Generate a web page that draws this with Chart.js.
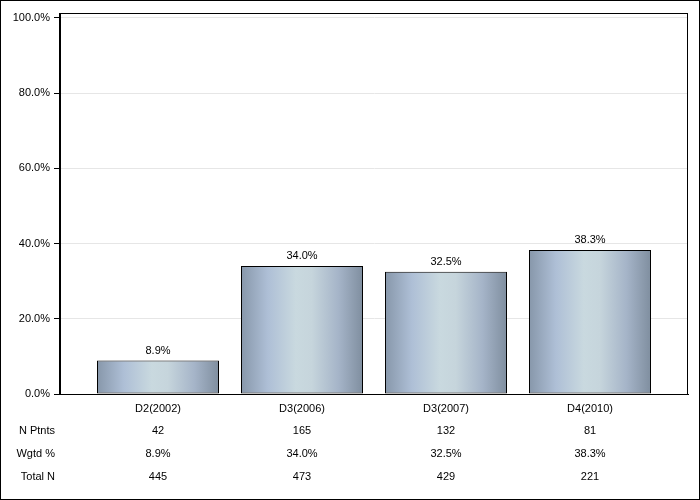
<!DOCTYPE html>
<html>
<head>
<meta charset="utf-8">
<script src="https://cdn.jsdelivr.net/npm/chart.js@4/dist/chart.umd.min.js"></script>
<style>
  html, body { margin: 0; padding: 0; background: #fff; }
  #wrap { width: 700px; height: 500px; }
</style>
</head>
<body>
<div id="wrap"><canvas id="myChart" width="700" height="500"></canvas></div>
<script>
var categories = ["D2(2002)", "D3(2006)", "D3(2007)", "D4(2010)"]
var values = [8.9, 34.0, 32.5, 38.3]
var nPtnts = ["42", "165", "132", "81"]
var wgtd = ["8.9%", "34.0%", "32.5%", "38.3%"]
var totalN = ["445", "473", "429", "221"]
var rowLabels = ["N Ptnts", "Wgtd %", "Total N"]
var yTicks = [0, 20, 40, 60, 80, 100]

var FONT = "Arial, 'Liberation Sans', sans-serif"
var BAR_PCT = 122 / 144
var X_PAD = 0.68056

function barGradient(c) {
    var chart = c.chart
    var x = chart.scales.x
    if (!x || !chart.chartArea) return '#b0c0d0'
    var center = x.getPixelForValue(c.dataIndex)
    var half = (x.getPixelForValue(1) - x.getPixelForValue(0)) * BAR_PCT / 2
    var g = chart.ctx.createLinearGradient(center - half, 0, center + half, 0)
    g.addColorStop(0, '#8797aa')
    g.addColorStop(0.22, '#aebfd6')
    g.addColorStop(0.45, '#c9d9df')
    g.addColorStop(0.58, '#c6d5dc')
    g.addColorStop(0.8, '#a5b4c8')
    g.addColorStop(1, '#7f8e9f')
    return g
}

// frame, bar labels and the table under the axis
var extras = {
    id: 'extras',
    afterDraw: function (chart) {
        var ctx = chart.ctx
        var a = chart.chartArea
        var x = chart.scales.x
        var y = chart.scales.y
        ctx.save()
        ctx.strokeStyle = '#000'
        ctx.lineWidth = 1
        ctx.strokeRect(0.5, 0.5, 699, 499)
        ctx.strokeRect(Math.round(a.left) - 0.5, Math.round(a.top) + 0.5, Math.round(a.right - a.left), Math.round(a.bottom - a.top))
        ctx.fillStyle = '#000'
        ctx.font = '11px ' + FONT
        ctx.textAlign = 'center'
        ctx.textBaseline = 'middle'
        for (var i = 0; i < values.length; i++) {
            var px = x.getPixelForValue(i)
            ctx.fillText(values[i].toFixed(1) + '%', px, y.getPixelForValue(values[i]) - 10)
            ctx.fillText(nPtnts[i], px, 431)
            ctx.fillText(wgtd[i], px, 454)
            ctx.fillText(totalN[i], px, 477)
        }
        ctx.textAlign = 'right'
        ctx.fillText(rowLabels[0], 55, 431)
        ctx.fillText(rowLabels[1], 55, 454)
        ctx.fillText(rowLabels[2], 55, 477)
        ctx.restore()
    }
}

var ctx = document.getElementById("myChart")
var myBarChart = new Chart(ctx, {
    type: 'bar',
    data: {
        datasets: [{
            data: values.map(function (v, i) { return { x: i, y: v } }),
            backgroundColor: barGradient,
            borderColor: '#000',
            borderWidth: 1,
            borderSkipped: false,
            categoryPercentage: 1,
            barPercentage: BAR_PCT
        }]
    },
    options: {
        responsive: false,
        animation: false,
        layout: { padding: { left: 0, top: 13, right: 12, bottom: 0 } },
        plugins: {
            legend: { display: false },
            tooltip: { enabled: false }
        },
        scales: {
            x: {
                type: 'linear',
                offset: false,
                min: -X_PAD,
                max: categories.length - 1 + X_PAD,
                afterBuildTicks: function (s) {
                    s.ticks = categories.map(function (c, i) { return { value: i } })
                },
                grid: { display: false },
                border: { color: '#000' },
                ticks: {
                    color: '#000',
                    font: { family: FONT, size: 11 },
                    padding: 0,
                    maxRotation: 0,
                    autoSkip: false,
                    callback: function (v) { return categories[v] }
                },
                afterFit: function (s) { s.height = 106 }
            },
            y: {
                min: 0,
                max: 101.3,
                afterBuildTicks: function (s) {
                    s.ticks = yTicks.map(function (v) { return { value: v } })
                },
                grid: { color: '#e6e6e6', tickColor: '#000', tickLength: 6, drawTicks: true },
                border: { color: '#000' },
                ticks: {
                    color: '#000',
                    font: { family: FONT, size: 11 },
                    padding: 4,
                    callback: function (v) { return v.toFixed(1) + '%' }
                },
                afterFit: function (s) { s.width = 60 }
            }
        }
    },
    plugins: [extras]
})
</script>
</body>
</html>
